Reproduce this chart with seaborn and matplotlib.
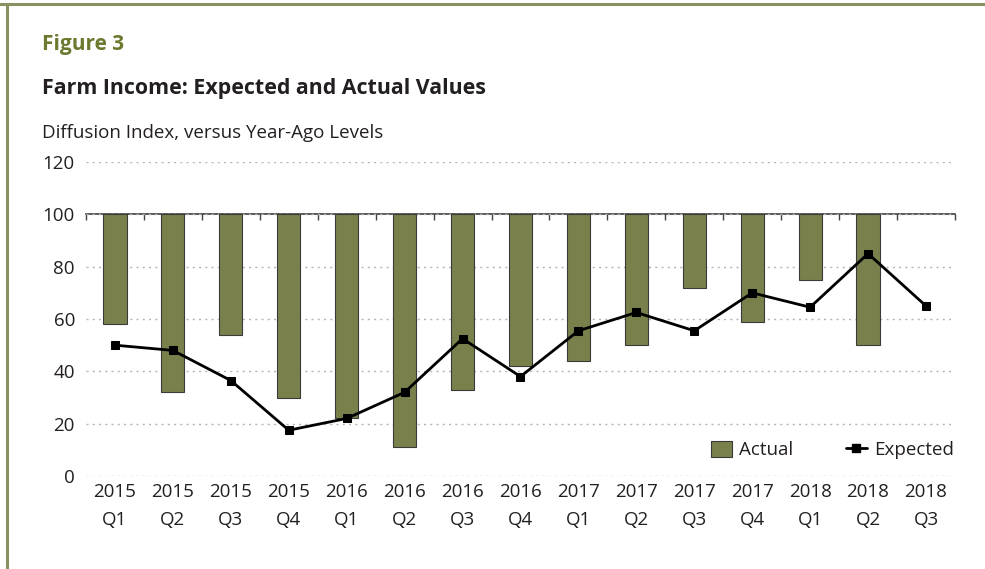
import numpy as np
import pandas as pd
import matplotlib
matplotlib.use("Agg")
import matplotlib.pyplot as plt
from matplotlib.patches import Rectangle
from matplotlib.lines import Line2D
import seaborn as sns

# Quarterly survey readings (diffusion index, versus year-ago levels)
years = ["2015", "2015", "2015", "2015", "2016", "2016", "2016", "2016",
         "2017", "2017", "2017", "2017", "2018", "2018", "2018"]
quarters = ["Q1", "Q2", "Q3", "Q4", "Q1", "Q2", "Q3", "Q4",
            "Q1", "Q2", "Q3", "Q4", "Q1", "Q2", "Q3"]
actual = [58, 32, 54, 30, 22, 11, 33, 42, 44, 50, 72, 59, 75, 50, np.nan]
expected = [50, 48, 36.5, 17.5, 22, 32, 52.5, 38, 55.5, 62.5, 55.5, 70, 64.5, 85, 65]

baseline = 100
labels = [f"{y}\n{q}" for y, q in zip(years, quarters)]

sns.set_theme(style="white")
plt.rcParams["font.family"] = ["Open Sans", "DejaVu Sans"]

OLIVE = "#7a804b"
TEXT = "#231f20"

df = pd.DataFrame({"period": labels,
                   "actual": actual,
                   "expected": expected})
df["pos"] = np.arange(len(df))
df["change"] = df["actual"] - baseline

fig = plt.figure(figsize=(9.85, 5.69), dpi=100)
ax = fig.add_axes([0.0873, 0.1634, 0.8822, 0.5519])

# Bars hang down from the 100 line to the actual reading
sns.barplot(data=df, x="period", y="change", order=labels, bottom=baseline,
            color=OLIVE, saturation=1, width=0.4, edgecolor="#3a3a3a",
            linewidth=0.8, ax=ax, zorder=2)

sns.lineplot(data=df, x="pos", y="expected", color="black", linewidth=2.0,
             marker="s", markersize=6, markeredgecolor="black", ax=ax,
             zorder=3)

ax.set_ylim(0, 120)
ax.set_xlim(-0.5, len(labels) - 0.5)
ax.set_yticks(np.arange(0, 121, 20))
ax.set_xticks(np.arange(len(labels)))
ax.set_xticklabels(labels, linespacing=1.75)
ax.tick_params(axis="both", length=0, labelsize=13.5, colors=TEXT)
ax.tick_params(axis="y", pad=8)
ax.tick_params(axis="x", pad=5)
ax.set_xlabel("")
ax.set_ylabel("")

ax.yaxis.grid(True, linestyle=(0, (1.5, 3)), color="#b5b5b5", linewidth=1.0)
ax.xaxis.grid(False)
ax.set_axisbelow(True)
for s in ax.spines.values():
    s.set_visible(False)

# Category axis drawn along the 100 line, with ticks between quarters
sec = ax.secondary_xaxis(baseline, transform=ax.transData)
sec.set_xticks(np.arange(len(labels) + 1) - 0.5)
sec.tick_params(axis="x", direction="in", length=4, width=1.0,
                color="#404040", labeltop=False, labelbottom=False,
                top=True, bottom=False)
for s in sec.spines.values():
    s.set_color("#404040")
    s.set_linewidth(1.2)

handles = [Rectangle((0, 0), 1, 1, facecolor=OLIVE, edgecolor="#3a3a3a",
                     linewidth=0.8),
           Line2D([], [], color="black", linewidth=2.0, marker="s",
                  markersize=6)]
ax.legend(handles, ["Actual", "Expected"], ncol=2, frameon=False,
          loc="center right", bbox_to_anchor=(0.999, 0.083), fontsize=13.5,
          handlelength=1.1, handleheight=1.0, handletextpad=0.4,
          columnspacing=2.8, labelcolor=TEXT, borderaxespad=0, borderpad=0)

fig.text(0.0426, 0.921, "Figure 3", fontsize=15, fontweight="bold",
         color="#6a7a2e", va="center", ha="left")
fig.text(0.0426, 0.845, "Farm Income: Expected and Actual Values",
         fontsize=15.4, fontweight="bold", color=TEXT, va="center", ha="left")
fig.text(0.0426, 0.766, "Diffusion Index, versus Year-Ago Levels",
         fontsize=13.5, color=TEXT, va="center", ha="left")

# Panel frame
fig.add_artist(Line2D([0, 1], [0.9921, 0.9921], transform=fig.transFigure,
                      color="#8a9160", linewidth=2.2))
fig.add_artist(Line2D([0.0066, 0.0066], [0, 0.9921], transform=fig.transFigure,
                      color="#8a9160", linewidth=2.2))

fig.savefig("out.png", dpi=100)
